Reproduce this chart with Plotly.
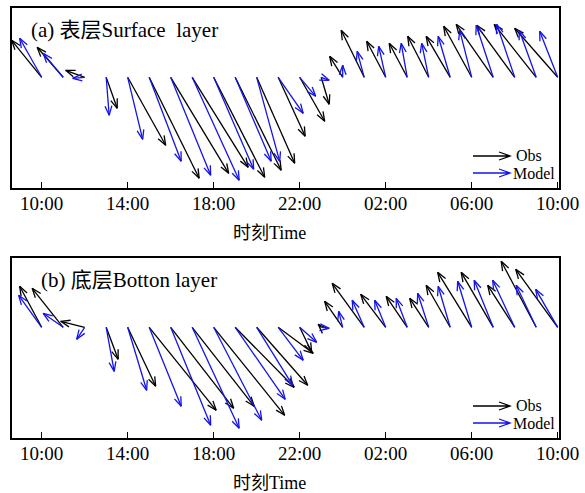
import math
import plotly.graph_objects as go

FONT = "Liberation Serif, Times New Roman, Noto Sans CJK SC, serif"

# time axis: hours after 10:00 of day 1 (hourly samples)
hours = list(range(25))
tick_vals = [0, 4, 8, 12, 16, 20, 24]
tick_text = ["10:00", "14:00", "18:00", "22:00", "02:00", "06:00", "10:00"]

# velocity components (cm/s): u east (+), v north (+)
surf_obs_u = [-30, -26, -19, 11, 38, 50, 58, 56, 51, 46, 38, 27, 25, 8, -13, -23, -19, -18, -21, -24, -28, -37, -38, -42, -43]
surf_obs_v = [37, 30, 7, -31, -68, -101, -96, -90, -100, -93, -86, -59, -44, -27, 21, 47, 36, 34, 41, 41, 51, 53, 52, 53, 49]
surf_mod_u = [-22, -20, -12, 3, 15, 32, 40, 47, 40, 36, 23, 25, 16, 8, 0, -7, -7, -6, -7, -12, -12, -17, -18, -17, -18]
surf_mod_v = [39, 24, -1, -38, -62, -84, -98, -103, -92, -84, -84, -36, -19, -3, 12, 26, 31, 34, 34, 41, 47, 52, 53, 47, 46]

bot_obs_u = [-22, -31, -24, 12, 28, 67, 63, 62, 71, 59, 51, 35, 12, -3, -18, -32, -25, -21, -19, -24, -34, -32, -27, -35, -42]
bot_obs_v = [41, 39, 6, -32, -59, -83, -81, -79, -88, -60, -58, -26, -25, 3, 26, 44, 33, 31, 29, 42, 55, 55, 42, 66, 58]
bot_mod_u = [-23, -20, -8, 8, 19, 32, 40, 47, 48, 50, 36, 25, 17, 8, -4, -12, -11, -11, -11, -12, -14, -19, -22, -20, -22]
bot_mod_v = [32, 14, -12, -44, -63, -79, -98, -101, -93, -72, -58, -33, -15, -1, 16, 27, 27, 29, 34, 41, 46, 47, 47, 42, 38]

OBS_COLOR = "#000000"
MOD_COLOR = "#1414e6"

# layout geometry
W, H = 585, 493
ML, MR, MT, MB = 12, 26, 8, 55
plot_w = W - ML - MR
plot_h = H - MT - MB
panel_h = 180
x_range = [-1.38, 24.06]
y_range = [-110.7, 69.3]
dom_a = [(plot_h - panel_h) / plot_h, 1.0]
dom_b = [0.0, panel_h / plot_h]

px_per_hour = plot_w / (x_range[1] - x_range[0])
px_per_unit = panel_h / (y_range[1] - y_range[0])


def stick_xy(t, u, v, head_px=10.0, head_ang=20.0):
    xs, ys = [], []
    a = math.radians(head_ang)
    for ti, ui, vi in zip(t, u, v):
        dxp = ui * px_per_unit
        dyp = vi * px_per_unit
        xe = ti + dxp / px_per_hour
        ye = vi
        xs += [ti, xe, None]
        ys += [0, ye, None]
        th = math.atan2(dyp, dxp)
        for s in (a, -a):
            wx = xe - head_px * math.cos(th + s) / px_per_hour
            wy = ye - head_px * math.sin(th + s) / px_per_unit
            xs += [wx, xe, None]
            ys += [wy, ye, None]
    return xs, ys


fig = go.Figure()
for (u, v, col, name, xa, ya) in [
    (surf_obs_u, surf_obs_v, OBS_COLOR, "Obs", "x", "y"),
    (surf_mod_u, surf_mod_v, MOD_COLOR, "Model", "x", "y"),
    (bot_obs_u, bot_obs_v, OBS_COLOR, "Obs", "x2", "y2"),
    (bot_mod_u, bot_mod_v, MOD_COLOR, "Model", "x2", "y2"),
]:
    xs, ys = stick_xy(hours, u, v)
    fig.add_trace(go.Scatter(x=xs, y=ys, mode="lines", name=name,
                             line=dict(color=col, width=1.3),
                             xaxis=xa, yaxis=ya, showlegend=False,
                             hoverinfo="skip"))

xaxis_common = dict(range=x_range, showgrid=False, zeroline=False, automargin=False,
                    showline=True, mirror=True, linecolor="black", linewidth=1.8,
                    ticks="inside", ticklen=6, tickwidth=1.3, tickcolor="black",
                    tickvals=tick_vals, ticktext=tick_text, ticklabelstandoff=-3,
                    tickfont=dict(family=FONT, size=19, color="black"))
yaxis_common = dict(range=y_range, showgrid=False, zeroline=False, automargin=False,
                    showline=True, mirror=True, linecolor="black", linewidth=1.8,
                    ticks="", showticklabels=False)

fig.update_layout(
    width=W, height=H, margin=dict(l=ML, r=MR, t=MT, b=MB, autoexpand=False),
    paper_bgcolor="white", plot_bgcolor="white",
    xaxis=dict(domain=[0, 1], anchor="y", **xaxis_common),
    yaxis=dict(domain=dom_a, anchor="x", **yaxis_common),
    xaxis2=dict(domain=[0, 1], anchor="y2", **xaxis_common),
    yaxis2=dict(domain=dom_b, anchor="x2", **yaxis_common),
    showlegend=False,
)


def px2paper(px, py):
    return (px - ML) / plot_w, (H - MB - py) / plot_h


annots = []
shapes = []


def add_text(text, px, py, size, anchor="left"):
    x, y = px2paper(px, py)
    annots.append(dict(text=text, x=x, y=y, xref="paper", yref="paper",
                       xanchor=anchor, yanchor="middle", showarrow=False,
                       borderpad=0,
                       font=dict(family=FONT, size=size, color="black")))


def legend_arrow(x0, x1, py, col):
    a0 = px2paper(x0, py)
    a1 = px2paper(x1, py)
    w1 = px2paper(x1 - 11, py - 4)
    w2 = px2paper(x1 - 11, py + 4)
    path = (f"M{a0[0]},{a0[1]} L{a1[0]},{a1[1]} M{w1[0]},{w1[1]} L{a1[0]},{a1[1]} "
            f"L{w2[0]},{w2[1]}")
    shapes.append(dict(type="path", path=path, xref="paper", yref="paper",
                       line=dict(color=col, width=1.3)))


for off, title, tx in [(0, "(a) 表层Surface\u00a0 layer", 30), (250, "(b) 底层Botton layer", 40)]:
    add_text(title, tx, 30 + off, 21)
    legend_arrow(473, 510, 156 + off, OBS_COLOR)
    legend_arrow(473, 510, 173 + off, MOD_COLOR)
    add_text("Obs", 515, 155 + off, 16)
    add_text("Model", 512, 173 + off, 16)
    add_text("时刻Time", 269, 233 + off, 18, anchor="center")

fig.update_layout(annotations=annots, shapes=shapes)
fig.write_html("out.html", config={"displayModeBar": False},
               post_script="document.body.style.margin='0px';")
